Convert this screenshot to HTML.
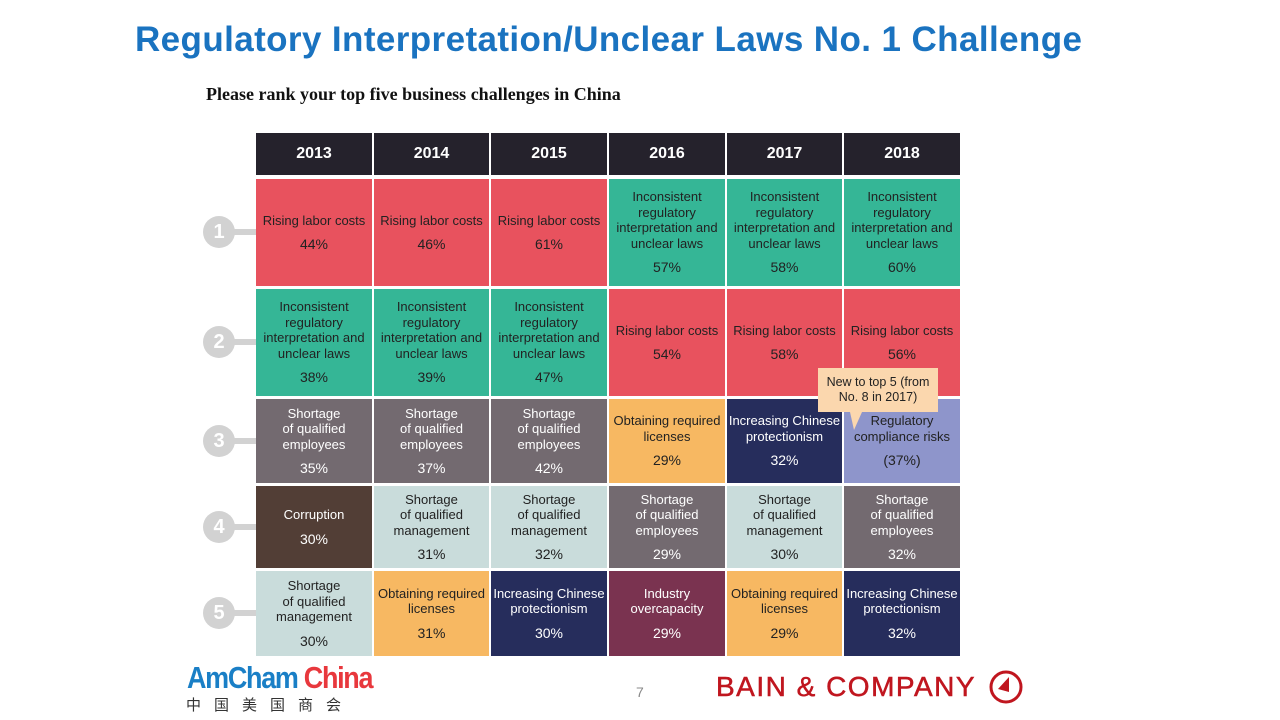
<!DOCTYPE html>
<html><head><meta charset="utf-8"><style>
body{margin:0;width:1280px;height:720px;background:#fff;position:relative;overflow:hidden;font-family:"Liberation Sans",sans-serif}
.t{position:absolute;left:135px;top:20px;font-size:35px;font-weight:bold;color:#1a73c0;letter-spacing:0.4px}
.s{position:absolute;left:206px;top:84px;font-family:"Liberation Serif",serif;font-weight:bold;font-size:18px;color:#111}
.c{position:absolute;display:flex;flex-direction:column;justify-content:center;align-items:center;text-align:center;font-size:13px;line-height:15.5px;color:#222}
.c b{font-weight:normal;display:block;margin-top:9px;font-size:14px}
.h{background:#25222c;color:#fff;font-weight:bold;font-size:16px}
.w{color:#fff}
.n{position:absolute;width:32px;height:32px;border-radius:50%;background:#d2d2d2;color:#fff;font-weight:bold;font-size:20px;text-align:center;line-height:32px;left:203px}
.l{position:absolute;left:228px;width:28px;height:6px;background:#d2d2d2}
</style></head><body>
<div class="t">Regulatory Interpretation/Unclear Laws No. 1 Challenge</div>
<div class="s">Please rank your top five business challenges in China</div>
<div id="g"></div>
<div class="n" style="top:216px">1</div><div class="l" style="top:229px"></div>
<div class="n" style="top:326px">2</div><div class="l" style="top:339px"></div>
<div class="n" style="top:425px">3</div><div class="l" style="top:438px"></div>
<div class="n" style="top:511px">4</div><div class="l" style="top:524px"></div>
<div class="n" style="top:597px">5</div><div class="l" style="top:610px"></div>
<script>
var X=[256,374,491,609,727,844],W=[116,115,116,116,115,116];
var R=[[133,42],[179,107],[289,107],[399,84],[486,82],[571,85]];
var C={r:'#e8525e',g:'#35b696',y:'#736a70',o:'#f7b862',n:'#262d5c',v:'#8e95cb',l:'#c9dcdb',b:'#523e36',p:'#7a3350'};
var white={y:1,n:1,b:1,p:1};
var inc='Inconsistent<br>regulatory<br>interpretation and<br>unclear laws',rl='Rising labor costs',se='Shortage<br>of qualified<br>employees',sm='Shortage<br>of qualified<br>management',ol='Obtaining required<br>licenses',ip='Increasing Chinese<br>protectionism';
var D=[
[['r',rl,'44%'],['r',rl,'46%'],['r',rl,'61%'],['g',inc,'57%'],['g',inc,'58%'],['g',inc,'60%']],
[['g',inc,'38%'],['g',inc,'39%'],['g',inc,'47%'],['r',rl,'54%'],['r',rl,'58%'],['r',rl,'56%']],
[['y',se,'35%'],['y',se,'37%'],['y',se,'42%'],['o',ol,'29%'],['n',ip,'32%'],['v','Regulatory<br>compliance risks','(37%)']],
[['b','Corruption','30%'],['l',sm,'31%'],['l',sm,'32%'],['y',se,'29%'],['l',sm,'30%'],['y',se,'32%']],
[['l',sm,'30%'],['o',ol,'31%'],['n',ip,'30%'],['p','Industry<br>overcapacity','29%'],['o',ol,'29%'],['n',ip,'32%']]];
var h='',yrs=['2013','2014','2015','2016','2017','2018'];
for(var i=0;i<6;i++)h+='<div class="c h" style="left:'+X[i]+'px;top:133px;width:'+W[i]+'px;height:42px">'+yrs[i]+'</div>';
for(var r=0;r<5;r++)for(var i=0;i<6;i++){var d=D[r][i];
h+='<div class="c'+(white[d[0]]?' w':'')+'" style="left:'+X[i]+'px;top:'+R[r+1][0]+'px;width:'+W[i]+'px;height:'+R[r+1][1]+'px;background:'+C[d[0]]+'"><span>'+d[1]+'</span><b>'+d[2]+'</b></div>';}
document.getElementById('g').innerHTML=h;
</script>
<div style="position:absolute;left:818px;top:368px;width:120px;height:44px;background:#fbd7ae;font-size:12.5px;line-height:15px;text-align:center;display:flex;align-items:center;justify-content:center;color:#222">New to top 5 (from<br>No. 8 in 2017)</div>
<div style="position:absolute;left:850px;top:412px;width:0;height:0;border-left:4px solid transparent;border-right:8px solid transparent;border-top:18px solid #fbd7ae"></div>
<div style="position:absolute;left:187px;top:660px;font-size:31px;font-weight:bold;letter-spacing:-1.5px;transform:scaleX(0.87);transform-origin:left"><span style="color:#1a7fc6">AmCham</span> <span style="color:#e8383d">China</span></div>
<div style="position:absolute;left:186px;top:694px;font-family:'Noto Sans CJK SC',sans-serif;font-size:15px;color:#333;letter-spacing:13px">中国美国商会</div>
<div style="position:absolute;left:636px;top:684px;font-size:14px;color:#888">7</div>
<div style="position:absolute;left:716px;top:671px;font-size:28px;color:#c0161f;letter-spacing:1.5px;-webkit-text-stroke:0.5px #c0161f">BAIN &amp; COMPANY</div>
<svg style="position:absolute;left:988px;top:669px" width="36" height="36"><circle cx="18" cy="18" r="15" fill="none" stroke="#c0161f" stroke-width="3"/><polygon points="21,8 21,23 10,20" fill="#c0161f"/></svg>
</body></html>
